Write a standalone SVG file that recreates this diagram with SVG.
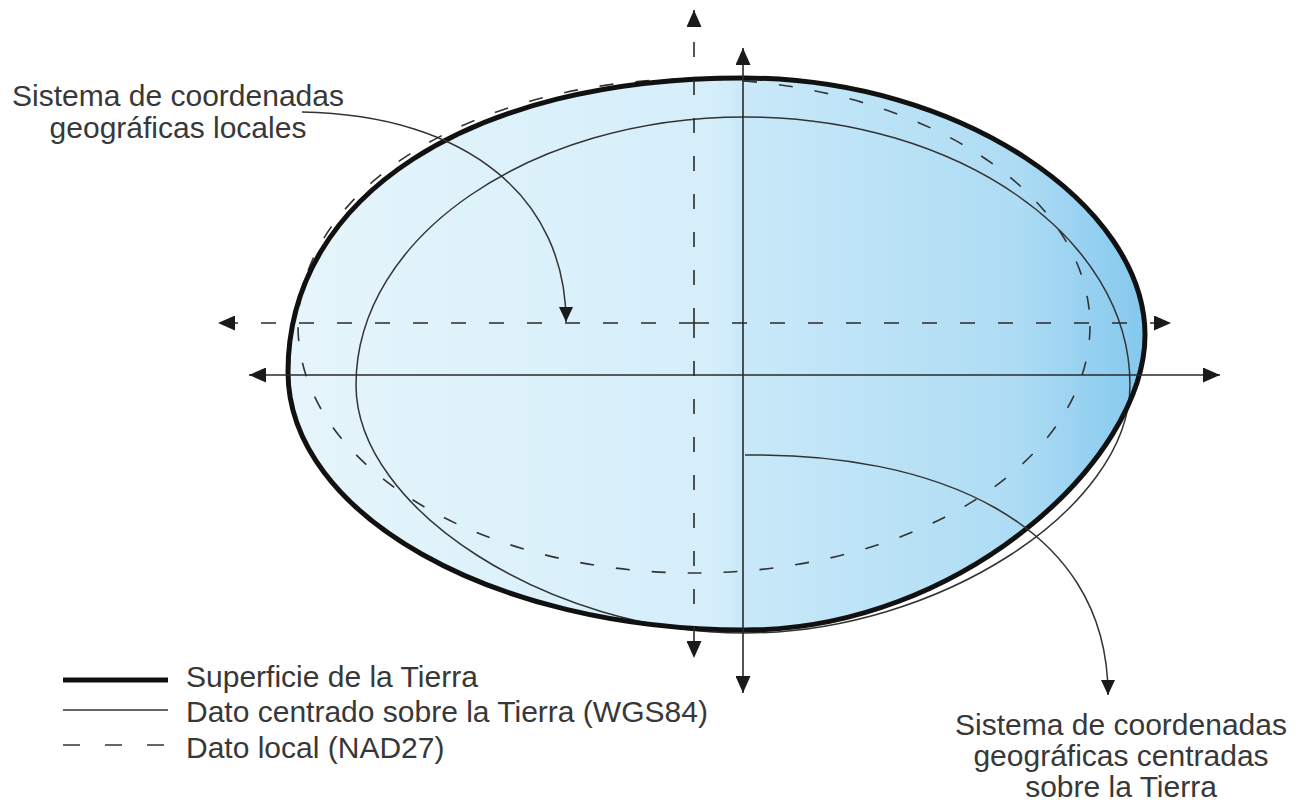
<svg xmlns="http://www.w3.org/2000/svg" width="1299" height="808" viewBox="0 0 1299 808">
<style>
text{font-family:"Liberation Sans",Arial,sans-serif;font-size:30px;fill:#383838}
.ax{stroke:#2a2a2a;stroke-width:1.6;fill:none}
.dash{stroke-dasharray:15 23}
.thick{stroke:#111;stroke-width:5;fill:none}
.thin{stroke:#333;stroke-width:1.5;fill:none}
.dsh{stroke:#333;stroke-width:1.6;fill:none;stroke-dasharray:14 22}
.con{stroke:#333;stroke-width:1.5;fill:none}
</style>
<defs>
<linearGradient id="fill" x1="288" y1="0" x2="1145" y2="0" gradientUnits="userSpaceOnUse">
<stop offset="0" stop-color="#e6f5fb"/>
<stop offset="0.5" stop-color="#d4eefa"/>
<stop offset="0.53" stop-color="#c9e9f9"/>
<stop offset="0.85" stop-color="#aedcf4"/>
<stop offset="1" stop-color="#84c8ee"/>
</linearGradient>
<marker id="ah" viewBox="0 0 17 15" refX="17" refY="7.5" markerWidth="17" markerHeight="15" markerUnits="userSpaceOnUse" orient="auto">
<path d="M0,0 L17,7.5 L0,15 Z" fill="#1a1a1a"/>
</marker>
<marker id="ahs" viewBox="0 0 15 14" refX="15" refY="7" markerWidth="15" markerHeight="14" markerUnits="userSpaceOnUse" orient="auto">
<path d="M0,0 L15,7 L0,14 Z" fill="#1a1a1a"/>
</marker>
</defs>

<g id="earth">
<path d="M743,78 C960,78 1145,205 1145,335 C1145,460 960,630 745,630 C493,630 288,514 288,372 C288,196 470,78 743,78 Z" fill="url(#fill)" stroke="none"/>
</g>

<g id="wgs84">
<path class="thin" d="M745,117 C958,117 1130,237 1130,385 C1130,509 937,633 745,633 C550,633 356,509 356,385 C356,237 530,117 745,117 Z"/>
</g>

<g id="nad27">
<ellipse class="dsh" cx="694" cy="326" rx="396" ry="247"/>
</g>

<g id="earth-outline">
<path class="thick" d="M743,78 C960,78 1145,205 1145,335 C1145,460 960,630 745,630 C493,630 288,514 288,372 C288,196 470,78 743,78 Z"/>
</g>

<g id="connectors">
<line class="ax dash" x1="694" y1="323" x2="218" y2="323" marker-end="url(#ah)"/>
<line class="ax dash" x1="694" y1="323" x2="1171" y2="323" marker-end="url(#ah)"/>
<line class="ax dash" x1="694" y1="323" x2="694" y2="10" marker-end="url(#ah)"/>
<line class="ax dash" x1="694" y1="323" x2="694" y2="658" marker-end="url(#ah)"/>
<line class="ax" x1="743" y1="375" x2="249" y2="375" marker-end="url(#ah)"/>
<line class="ax" x1="743" y1="375" x2="1220" y2="375" marker-end="url(#ah)"/>
<line class="ax" x1="743" y1="375" x2="743" y2="48" marker-end="url(#ah)"/>
<line class="ax" x1="743" y1="375" x2="743" y2="693" marker-end="url(#ah)"/>
<path class="con" d="M302,112 C470,115 566,200 566,322" marker-end="url(#ahs)"/>
<path class="con" d="M745,455 C930,452 1108,520 1108,695" marker-end="url(#ahs)"/>
</g>

<g id="label-local">
<text x="178" y="106" text-anchor="middle">Sistema de coordenadas</text>
<text x="178" y="138" text-anchor="middle">geográficas locales</text>
</g>

<g id="label-centred">
<text x="1121" y="735" text-anchor="middle">Sistema de coordenadas</text>
<text x="1121" y="766" text-anchor="middle">geográficas centradas</text>
<text x="1121" y="797" text-anchor="middle">sobre la Tierra</text>
</g>

<g id="legend">
<line x1="63" y1="680" x2="168" y2="680" stroke="#111" stroke-width="5"/>
<text x="186" y="687">Superficie de la Tierra</text>
<line x1="63" y1="710" x2="168" y2="710" stroke="#333" stroke-width="1.5"/>
<text x="186" y="722">Dato centrado sobre la Tierra (WGS84)</text>
<line x1="63" y1="745" x2="166" y2="745" stroke="#333" stroke-width="1.6" stroke-dasharray="17 25"/>
<text x="186" y="758">Dato local (NAD27)</text>
</g>
</svg>
